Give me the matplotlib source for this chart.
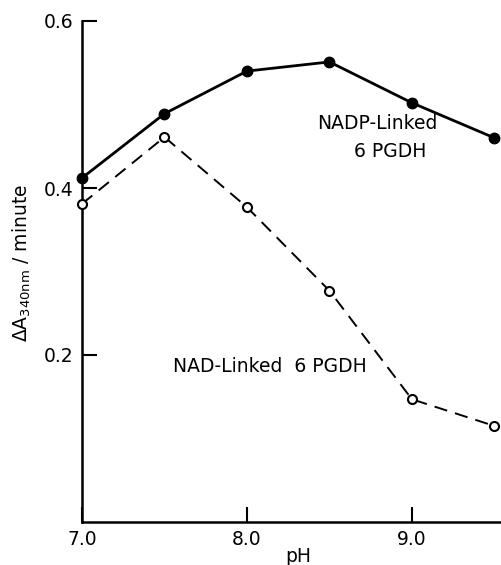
import matplotlib as mpl
mpl.use('Agg')
import matplotlib.pyplot as plt

ph = [7.0, 7.5, 8.0, 8.5, 9.0, 9.5]
nadp = [0.412, 0.489, 0.540, 0.551, 0.502, 0.460]
nad = [0.381, 0.461, 0.377, 0.277, 0.147, 0.115]

xticks = [7.0, 8.0, 9.0]
yticks = [0.2, 0.4, 0.6]

fs = 13.5

fig = plt.figure(figsize=(5.01, 5.65), dpi=100)
ax = fig.add_axes([82/501, 43/565, 1 - 82/501, 501/565])

ax.plot(ph, nadp, color='black', lw=2.0, marker='o', ms=7.5, mfc='black',
        mec='black', clip_on=False, zorder=3)
ax.plot(ph, nad, color='black', lw=1.4, dashes=(6.8, 4.2), marker='o', ms=6.5,
        mfc='white', mec='black', mew=1.5, clip_on=False, zorder=3)

ax.set_xlim(7.0, 9.54)
ax.set_ylim(0, 0.6)
ax.set_xticks(xticks)
ax.set_xticklabels(['7.0', '8.0', '9.0'])
ax.set_yticks(yticks)
ax.set_yticklabels(['0.2', '0.4', '0.6'])
ax.tick_params(direction='in', length=11, width=1.5, labelsize=fs, pad=6)

for s in ['top', 'right']:
    ax.spines[s].set_visible(False)
for s in ['left', 'bottom']:
    ax.spines[s].set_linewidth(1.8)

ax.text(8.79, 0.477, 'NADP-Linked', ha='center', va='center', fontsize=fs)
ax.text(8.867, 0.444, '6 PGDH', ha='center', va='center', fontsize=fs)
ax.text(7.55, 0.186, 'NAD-Linked  6 PGDH', ha='left', va='center', fontsize=fs)

fig.text(22/501, 1 - 263/565, r'$\Delta$A$_{\mathrm{340nm}}$ / minute',
         rotation=90, ha='center', va='center', fontsize=fs)
fig.text(298/501, 0.006, 'pH', ha='center', va='baseline', fontsize=fs)

fig.savefig('out.png', dpi=100)
